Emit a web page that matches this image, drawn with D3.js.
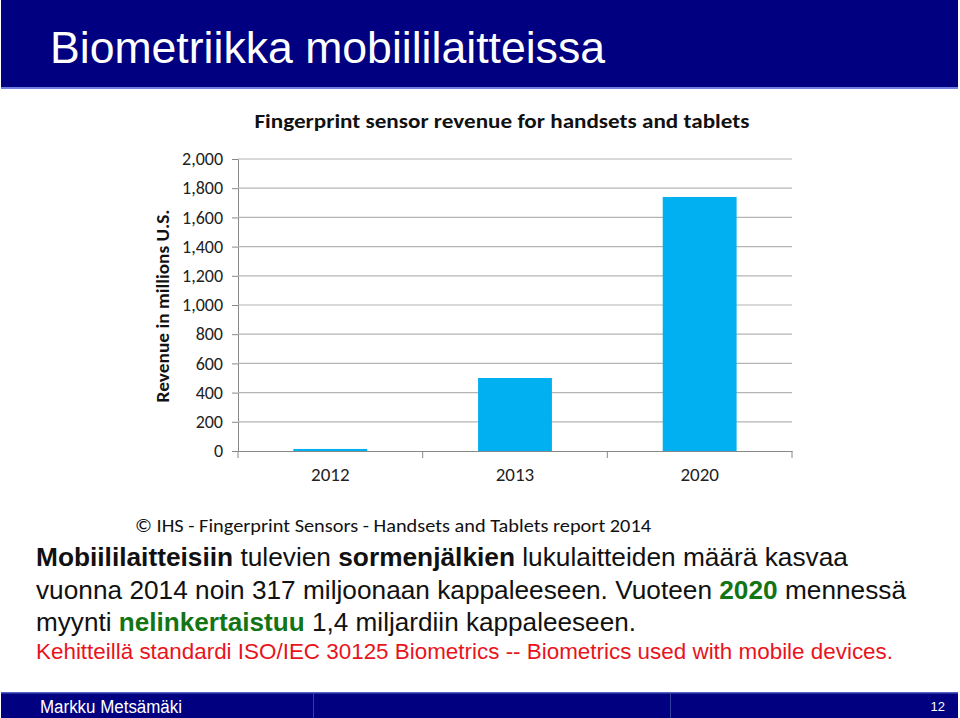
<!DOCTYPE html>
<html><head><meta charset="utf-8">
<script src="https://cdn.jsdelivr.net/npm/d3@7"></script>
<style>body{margin:0;background:#fff}svg{display:block}</style>
</head><body>
<script>
const categories = ["2012", "2013", "2020"];
const revenue = [14, 500, 1740];
const yTicks = [0, 200, 400, 600, 800, 1000, 1200, 1400, 1600, 1800, 2000];

const W = 960, H = 718;
const svg = d3.select("body").append("svg").attr("width", W).attr("height", H);
const narrow = "'Liberation Sans Narrow','Liberation Sans',Arial,sans-serif";
const cal = "Carlito,'Open Sans','Liberation Sans',sans-serif";

// header bar
svg.append("rect").attr("x", 1).attr("y", 0).attr("width", 957).attr("height", 87).attr("fill", "#000080");
svg.append("rect").attr("x", 1).attr("y", 87).attr("width", 957).attr("height", 2).attr("fill", "#7080e0");
svg.append("text").attr("x", 50).attr("y", 63).attr("font-family", narrow).attr("font-size", 44)
  .attr("fill", "#fff").attr("textLength", 555).attr("lengthAdjust", "spacingAndGlyphs")
  .text("Biometriikka mobiililaitteissa");

// chart
const x0 = 238, x1 = 792, yTop = 159, yBot = 451;
const x = d3.scaleBand().domain(categories).range([x0, x1]).paddingInner(0.6).paddingOuter(0.3);
const y = d3.scaleLinear().domain([0, 2000]).range([yBot, yTop]);

svg.append("text").attr("x", 502).attr("y", 128).attr("text-anchor", "middle")
  .attr("font-family", cal).attr("font-weight", "bold").attr("font-size", 21).attr("fill", "#111")
  .attr("textLength", 495).attr("lengthAdjust", "spacingAndGlyphs")
  .text("Fingerprint sensor revenue for handsets and tablets");

const yAxis = svg.append("g").attr("transform", `translate(${x0},0)`)
  .call(d3.axisLeft(y).tickValues(yTicks).tickSize(6).tickFormat(d3.format(",")));
yAxis.select(".domain").attr("stroke", "#888");
yAxis.selectAll(".tick line").attr("stroke", "#888");
yAxis.selectAll(".tick text").attr("font-family", cal).attr("font-size", 18).attr("fill", "#222").attr("x", -15);

svg.append("g").selectAll("line").data(yTicks.filter(d => d > 0)).join("line")
  .attr("x1", x0).attr("x2", x1).attr("y1", d => y(d)).attr("y2", d => y(d))
  .attr("stroke", "#b4b4b4").attr("stroke-width", 1.2);

svg.append("g").selectAll("rect").data(categories).join("rect")
  .attr("x", d => x(d)).attr("width", x.bandwidth())
  .attr("y", (d, i) => y(revenue[i])).attr("height", (d, i) => yBot - y(revenue[i]))
  .attr("fill", "#00b0f0");

const xAxis = svg.append("g").attr("transform", `translate(0,${yBot})`)
  .call(d3.axisBottom(x).tickSize(0).tickPadding(17));
xAxis.select(".domain").attr("stroke", "#888");
xAxis.selectAll(".tick text").attr("font-family", cal).attr("font-size", 19).attr("fill", "#222");
const bounds = [x0].concat(categories.map(c => x(c) + x.bandwidth() + x.step() * 0.3));
svg.append("g").selectAll("line").data(bounds).join("line")
  .attr("x1", d => d).attr("x2", d => d).attr("y1", yBot).attr("y2", yBot + 7)
  .attr("stroke", "#888");

svg.append("text").attr("transform", "translate(169,306) rotate(-90)").attr("text-anchor", "middle")
  .attr("font-family", cal).attr("font-weight", "bold").attr("font-size", 18).attr("fill", "#111")
  .attr("textLength", 193).attr("lengthAdjust", "spacingAndGlyphs")
  .text("Revenue in millions U.S.");

svg.append("text").attr("x", 135).attr("y", 532).attr("font-family", cal).attr("font-size", 18).attr("fill", "#111")
  .attr("textLength", 516).attr("lengthAdjust", "spacingAndGlyphs")
  .text("© IHS - Fingerprint Sensors - Handsets and Tablets report 2014");

// body text
const lines = [
  {y: 566, len: 812, parts: [["Mobiililaitteisiin", "b"], [" tulevien ", ""], ["sormenjälkien", "b"], [" lukulaitteiden määrä kasvaa", ""]]},
  {y: 599, len: 870, parts: [["vuonna 2014 noin 317 miljoonaan kappaleeseen. Vuoteen ", ""], ["2020", "g"], [" mennessä", ""]]},
  {y: 631, len: 600, parts: [["myynti ", ""], ["nelinkertaistuu", "g"], [" 1,4 miljardiin kappaleeseen.", ""]]}
];
lines.forEach(l => {
  const t = svg.append("text").attr("x", 36).attr("y", l.y).attr("font-family", narrow).attr("font-size", 26)
    .attr("fill", "#111").attr("textLength", l.len).attr("lengthAdjust", "spacingAndGlyphs");
  l.parts.forEach(p => {
    const s = t.append("tspan").text(p[0]);
    if (p[1] === "b") s.attr("font-weight", "bold");
    if (p[1] === "g") s.attr("font-weight", "bold").attr("fill", "#137413");
  });
});
svg.append("text").attr("x", 36).attr("y", 659).attr("font-family", narrow).attr("font-size", 22)
  .attr("fill", "#e8141c").attr("textLength", 857).attr("lengthAdjust", "spacingAndGlyphs")
  .text("Kehitteillä standardi ISO/IEC 30125 Biometrics -- Biometrics used with mobile devices.");

// footer
svg.append("rect").attr("x", 1).attr("y", 692).attr("width", 957).attr("height", 26).attr("fill", "#000080");
svg.append("rect").attr("x", 1).attr("y", 692).attr("width", 957).attr("height", 1.5).attr("fill", "#5060c0");
[313, 670].forEach(v => svg.append("rect").attr("x", v).attr("y", 693).attr("width", 1).attr("height", 25).attr("fill", "#3040a0"));
svg.append("text").attr("x", 40).attr("y", 713).attr("font-family", narrow).attr("font-size", 18).attr("fill", "#fff")
  .attr("textLength", 142).attr("lengthAdjust", "spacingAndGlyphs").text("Markku Metsämäki");
svg.append("text").attr("x", 945).attr("y", 711).attr("text-anchor", "end").attr("font-family", narrow).attr("font-size", 13).attr("fill", "#fff").text("12");
</script>
</body></html>
